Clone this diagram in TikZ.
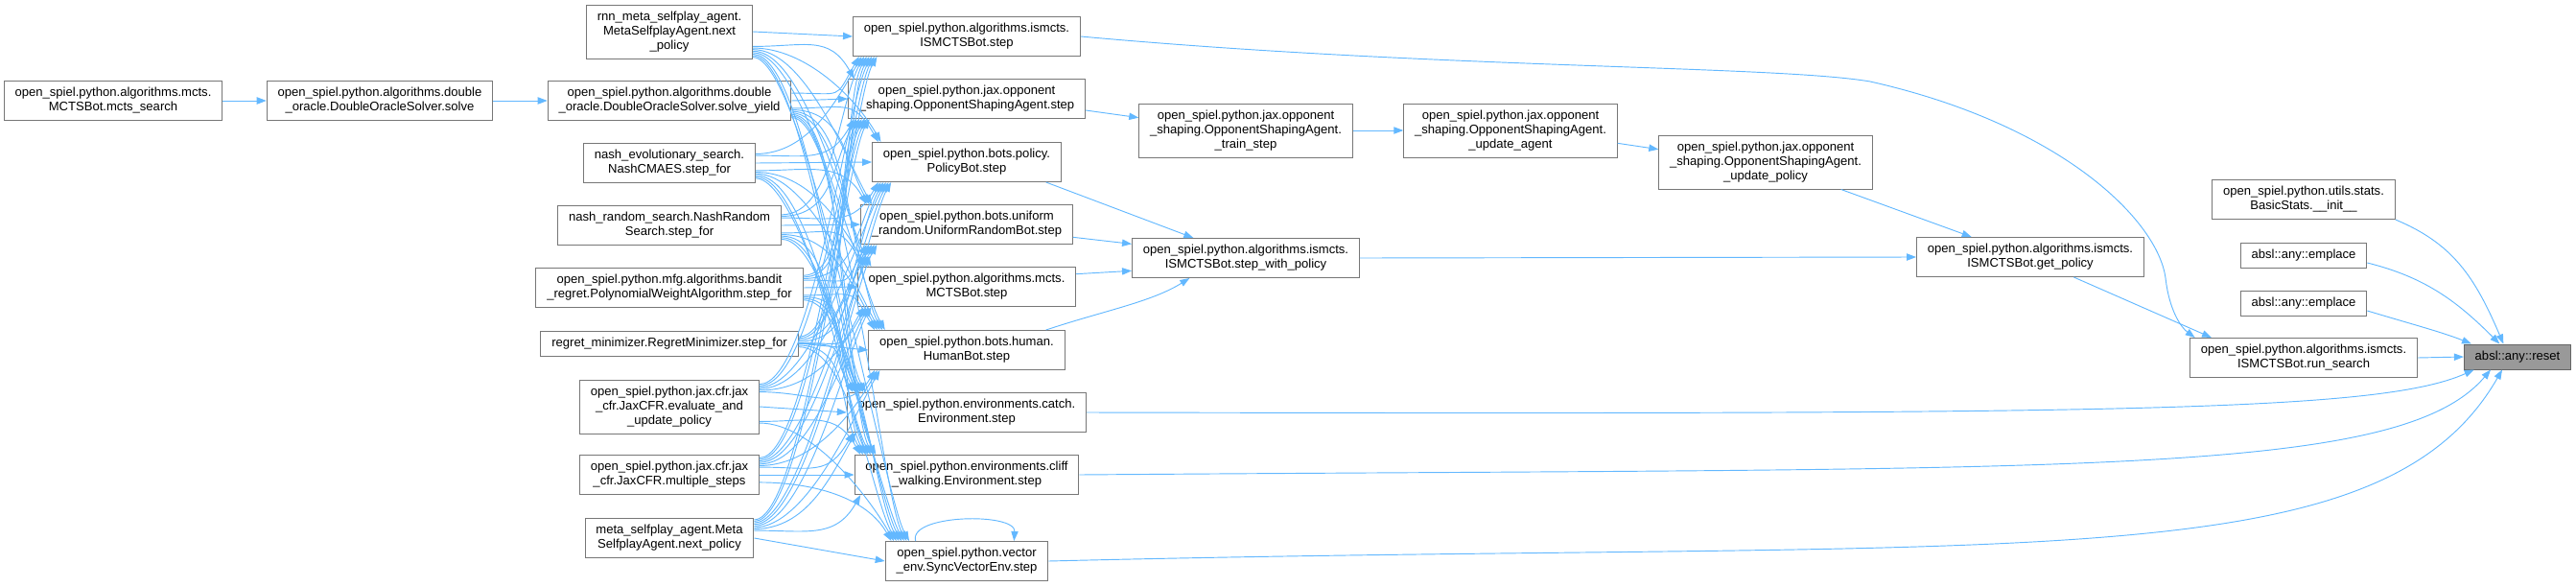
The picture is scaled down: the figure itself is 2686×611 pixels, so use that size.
\documentclass[tikz,border=0pt]{standalone}
\usepackage{fontspec}
\setmainfont{Liberation Sans}
\usetikzlibrary{arrows.meta}
\definecolor{Cedge}{HTML}{63B8FF}
\definecolor{Bfn}{HTML}{777777}
\definecolor{Cfocus}{HTML}{999999}
\tikzset{
  fn/.style   = {draw=Bfn, fill=white, line width=0.75pt, align=center,
                 font=\fontsize{9.8}{11.25}\selectfont,
                 inner xsep=8.5pt, inner ysep=0pt, minimum height=30.75pt},
  fnone/.style   = {fn, minimum height=19.5pt},
  fnthree/.style = {fn, minimum height=42pt},
  fnfocus/.style = {fnone, fill=Cfocus, draw=Bfn!85!black},
  arr/.style  = {-{Triangle[length=7.5pt, width=5.5pt]}, line width=0.7pt, Cedge},
}
\begin{document}
\begin{tikzpicture}[x=0.75pt, y=-0.75pt]
\useasboundingbox (0,0) rectangle (2686,611);

%%──────────────────────────────────────────────────
%% Callers (left)
%%──────────────────────────────────────────────────
\node[fn] (mctssearch) at (118,105)
  {open\_spiel.python.algorithms.mcts.\\MCTSBot.mcts\_search};
\node[fn] (dosolve) at (396,105)
  {open\_spiel.python.algorithms.double\\\_oracle.DoubleOracleSolver.solve};

\node[fnthree] (rnnmeta) at (698,33)
  {rnn\_meta\_selfplay\_agent.\\MetaSelfplayAgent.next\\\_policy};
\node[fn] (solveyield) at (698,105)
  {open\_spiel.python.algorithms.double\\\_oracle.DoubleOracleSolver.solve\_yield};
\node[fn] (nashcmaes) at (698,170)
  {nash\_evolutionary\_search.\\NashCMAES.step\_for};
\node[fn] (nashrandom) at (698,235)
  {nash\_random\_search.NashRandom\\Search.step\_for};
\node[fn] (polyweight) at (698,300)
  {open\_spiel.python.mfg.algorithms.bandit\\\_regret.PolynomialWeightAlgorithm.step\_for};
\node[fnone] (regretmin) at (698,358)
  {regret\_minimizer.RegretMinimizer.step\_for};
\node[fnthree] (jaxeval) at (698,424)
  {open\_spiel.python.jax.cfr.jax\\\_cfr.JaxCFR.evaluate\_and\\\_update\_policy};
\node[fn] (jaxsteps) at (698,495)
  {open\_spiel.python.jax.cfr.jax\\\_cfr.JaxCFR.multiple\_steps};
\node[fn] (metaagent) at (698,561)
  {meta\_selfplay\_agent.Meta\\SelfplayAgent.next\_policy};

\draw[arr] (mctssearch.east) -- (dosolve.west);
\draw[arr] (dosolve.east)    -- (solveyield.west);

%%──────────────────────────────────────────────────
%% step functions (middle)
%%──────────────────────────────────────────────────
\node[fn] (ismstep) at (1008,38)
  {open\_spiel.python.algorithms.ismcts.\\ISMCTSBot.step};
\node[fn] (osastep) at (1008,103)
  {open\_spiel.python.jax.opponent\\\_shaping.OpponentShapingAgent.step};
\node[fn] (policystep) at (1008,169)
  {open\_spiel.python.bots.policy.\\PolicyBot.step};
\node[fn] (uniformstep) at (1008,234)
  {open\_spiel.python.bots.uniform\\\_random.UniformRandomBot.step};
\node[fn] (mctsstep) at (1008,299)
  {open\_spiel.python.algorithms.mcts.\\MCTSBot.step};
\node[fn] (humanstep) at (1008,365)
  {open\_spiel.python.bots.human.\\HumanBot.step};
\node[fn] (catchstep) at (1008,430)
  {open\_spiel.python.environments.catch.\\Environment.step};
\node[fn] (cliffstep) at (1008,495)
  {open\_spiel.python.environments.cliff\\\_walking.Environment.step};
\node[fn] (syncstep) at (1008,585)
  {open\_spiel.python.vector\\\_env.SyncVectorEnv.step};

%% every caller reaches every step
\foreach \src [count=\i] in {rnnmeta,solveyield,nashcmaes,nashrandom,polyweight,regretmin,jaxeval,jaxsteps,metaagent}{
  \foreach \dst [count=\j] in {ismstep,osastep,policystep,uniformstep,mctsstep,humanstep,catchstep,cliffstep,syncstep}{
    \ifnum\i=\j\relax
      \draw[arr] (\src.east) -- (\dst.west);
    \else\ifnum\i<\j\relax
      \draw[arr] ([yshift={11pt-1.2pt*(\j-\i)}]\src.south east)
        .. controls +(55,0) and +(-26,-46) .. ([xshift={3pt+2pt*(\j-\i)}]\dst.north west);
    \else
      \draw[arr] ([yshift={-11pt+1.2pt*(\i-\j)}]\src.north east)
        .. controls +(55,0) and +(-26,46) .. ([xshift={3pt+2pt*(\i-\j)}]\dst.south west);
    \fi\fi
  }
}

\draw[arr] ([xshift=-40pt]syncstep.north) .. controls +(-8,-28) and +(2,-30) .. ([xshift=37pt]syncstep.north);

%%──────────────────────────────────────────────────
%% ISMCTS / opponent shaping chain
%%──────────────────────────────────────────────────
\node[fnthree] (trainstep) at (1299,136)
  {open\_spiel.python.jax.opponent\\\_shaping.OpponentShapingAgent.\\\_train\_step};
\node[fn] (stepwpolicy) at (1299,269)
  {open\_spiel.python.algorithms.ismcts.\\ISMCTSBot.step\_with\_policy};
\node[fnthree] (updateagent) at (1575,136)
  {open\_spiel.python.jax.opponent\\\_shaping.OpponentShapingAgent.\\\_update\_agent};
\node[fnthree] (updatepolicy) at (1841,169)
  {open\_spiel.python.jax.opponent\\\_shaping.OpponentShapingAgent.\\\_update\_policy};
\node[fn] (getpolicy) at (2117,268)
  {open\_spiel.python.algorithms.ismcts.\\ISMCTSBot.get\_policy};

\draw[arr] ([yshift=-9pt]osastep.east) -- ([yshift=10pt]trainstep.west);
\draw[arr] (trainstep.east) -- (updateagent.west);
\draw[arr] ([yshift=-10pt]updateagent.east) -- ([yshift=10pt]updatepolicy.west);
\draw[arr] ([xshift=59pt]updatepolicy.south) -- ([xshift=-46pt]getpolicy.north);

\draw[arr] ([xshift=62pt]policystep.south) -- ([xshift=-41pt]stepwpolicy.north);
\draw[arr] ([yshift=-10pt]uniformstep.east) -- ([yshift=11pt]stepwpolicy.west);
\draw[arr] ([yshift=10pt]mctsstep.east) -- ([yshift=-10pt]stepwpolicy.west);
\draw[arr] ([xshift=62pt]humanstep.north) .. controls +(60,-20) and +(-40,25) .. ([xshift=-44pt]stepwpolicy.south);
\draw[arr] (stepwpolicy.east) -- (getpolicy.west);

%%──────────────────────────────────────────────────
%% Callee (right)
%%──────────────────────────────────────────────────
\node[fn] (basicstats) at (2402,208)
  {open\_spiel.python.utils.stats.\\BasicStats.\_\_init\_\_};
\node[fnone] (emplacea) at (2402,266) {absl::any::emplace};
\node[fnone] (emplaceb) at (2402,316) {absl::any::emplace};
\node[fn] (runsearch) at (2402,373)
  {open\_spiel.python.algorithms.ismcts.\\ISMCTSBot.run\_search};
\node[fnfocus] (reset) at (2625,372) {absl::any::reset};

\draw[arr] ([xshift=34pt]getpolicy.south) -- ([xshift=-72pt]runsearch.north);
\draw[arr] (ismstep.east) .. controls (1500,72) and (1850,68) .. (1950,85)
  .. controls (2150,130) and (2250,230) .. (2258,290)
  .. controls (2262,325) and (2275,342) .. ([xshift=-85pt]runsearch.north);

\draw[arr] (runsearch.east) -- (reset.west);
\draw[arr] (basicstats.south east) .. controls +(60,25) and +(-30,-70) .. ([xshift=-11pt]reset.north);
\draw[arr] ([yshift=-6pt]emplacea.east) .. controls +(60,15) and +(-45,-45) .. ([xshift=-14pt]reset.north);
\draw[arr] ([yshift=-6pt]emplaceb.east) .. controls +(50,15) and +(-30,-12) .. ([xshift=-36pt]reset.north);
\draw[arr] (catchstep.east) .. controls (2200,432) and (2480,430) .. ([xshift=-34pt]reset.south);
\draw[arr] (cliffstep.east) .. controls (2150,487) and (2500,500) .. ([xshift=-21pt]reset.south);
\draw[arr] (syncstep.east) .. controls (2100,560) and (2480,610) .. ([xshift=-12pt]reset.south);

\end{tikzpicture}
\end{document}
